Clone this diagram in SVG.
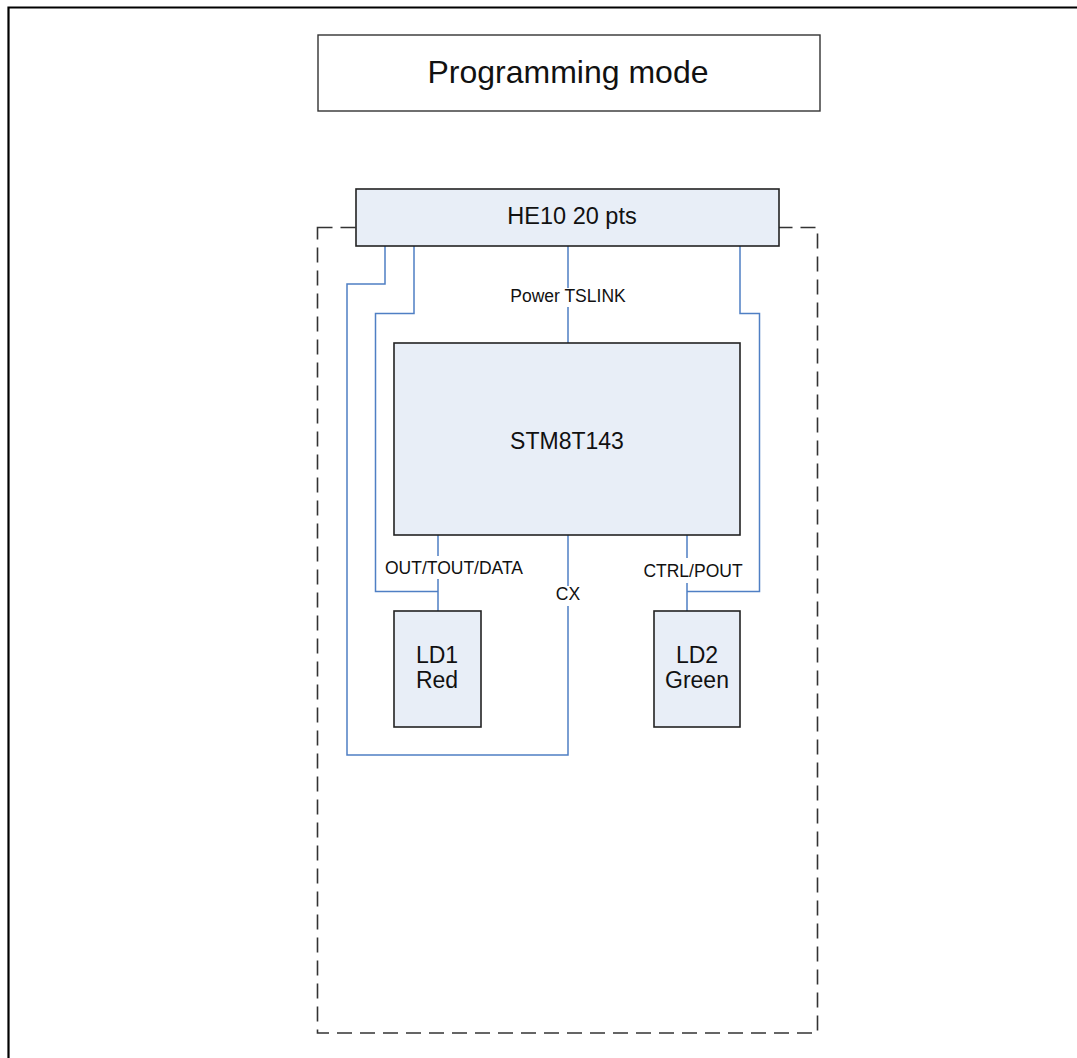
<svg xmlns="http://www.w3.org/2000/svg" width="1077" height="1058" viewBox="0 0 1077 1058">
<style>
.box{fill:#e8eef7;stroke:#222;stroke-width:1.6}
.wire{fill:none;stroke:#4f7fc4;stroke-width:1.5}
.t{font-family:"Liberation Sans",Arial,sans-serif;fill:#111;text-anchor:middle}
.lbl{font-family:"Liberation Sans",Arial,sans-serif;fill:#111;text-anchor:middle;font-size:17.5px}
</style>
<rect width="1077" height="1058" fill="#fff"/>
<path d="M8.5,1058 V7.5 H1077" fill="none" stroke="#000" stroke-width="2.2"/>
<g id="mode">
<rect x="318" y="35" width="502" height="76" fill="#fff" stroke="#333" stroke-width="1.4"/>
<text class="t" x="568" y="83" font-size="32">Programming mode</text>
</g>
<g id="board">
<rect x="317.5" y="227.5" width="500" height="805.5" fill="none" stroke="#333" stroke-width="1.6" stroke-dasharray="15,8"/>
</g>
<g id="connectors">
<path class="wire" d="M385,246 V284 H347 V755 H568 V606"/>
<path class="wire" d="M568,586 V535"/>
<path class="wire" d="M414,246 V313.5 H375.5 V591.5 H438"/>
<path class="wire" d="M438,535 V556 M438,579 V611"/>
<path class="wire" d="M568,246 V288 M568,307 V343"/>
<path class="wire" d="M740,246 V313.5 H759.5 V591.5 H687"/>
<path class="wire" d="M687,535 V558 M687,583 V611"/>
<text class="lbl" x="568" y="302" font-size="17">Power TSLINK</text>
<text class="lbl" x="454" y="574">OUT/TOUT/DATA</text>
<text class="lbl" x="568" y="600">CX</text>
<text class="lbl" x="693" y="577">CTRL/POUT</text>
</g>
<g id="he10">
<rect class="box" x="356" y="189" width="423" height="57"/>
<text class="t" x="572" y="224" font-size="23.5">HE10 20 pts</text>
</g>
<g id="stm">
<rect class="box" x="394" y="343" width="346" height="192"/>
<text class="t" x="567" y="449" font-size="23">STM8T143</text>
</g>
<g id="ld1">
<rect class="box" x="394" y="611" width="87" height="116"/>
<text class="t" x="437" y="663" font-size="23">LD1</text>
<text class="t" x="437" y="688" font-size="23">Red</text>
</g>
<g id="ld2">
<rect class="box" x="654" y="611" width="86" height="116"/>
<text class="t" x="697" y="663" font-size="23">LD2</text>
<text class="t" x="697" y="688" font-size="23">Green</text>
</g>
</svg>
